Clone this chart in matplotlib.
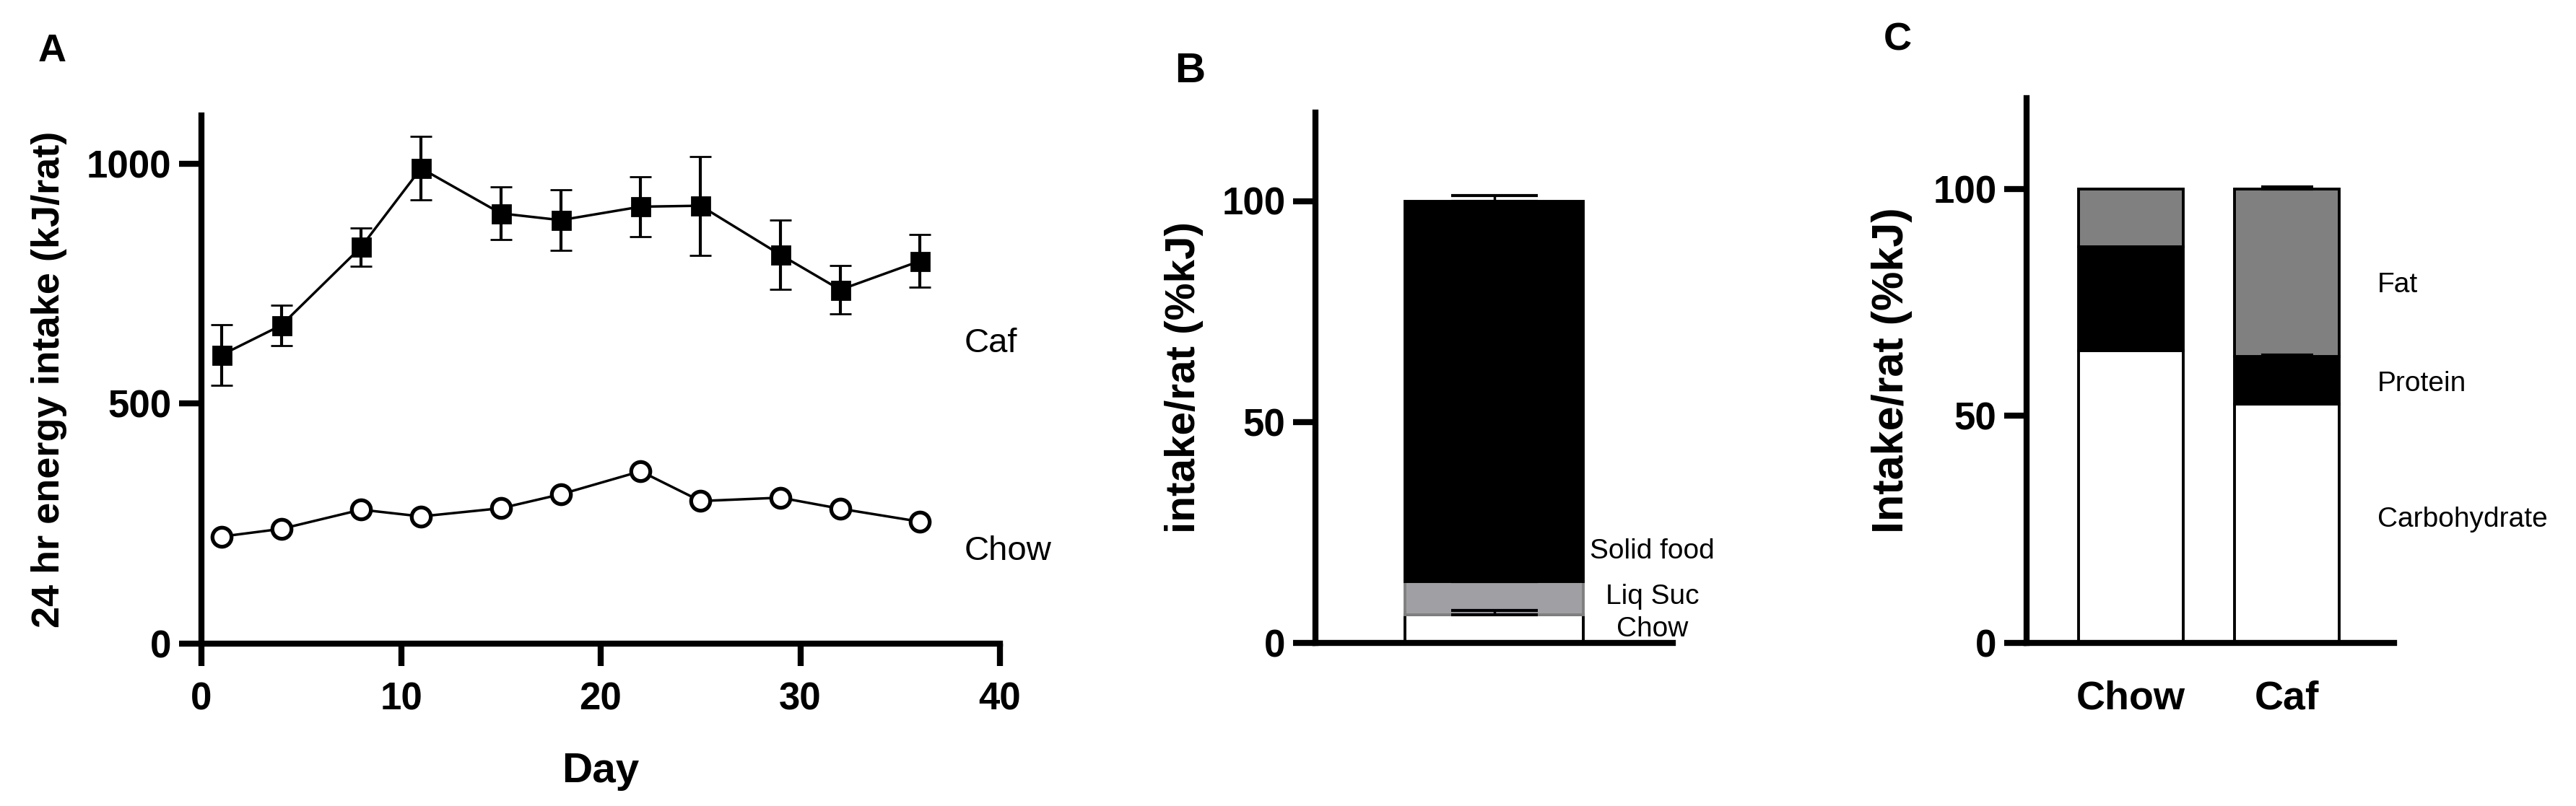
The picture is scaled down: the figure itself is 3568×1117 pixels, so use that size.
"""Three-panel intake figure: daily energy intake (A), Caf energy sources (B),
macronutrient split by diet (C)."""

import matplotlib.pyplot as plt
import numpy as np

plt.rcParams['font.family'] = ['Liberation Sans', 'DejaVu Sans']

# --- Panel A: 24 hr energy intake over days ---
DAYS = [1, 4, 8, 11, 15, 18, 22, 25, 29, 32, 36]
CAF_KJ = [601, 663, 826, 990, 896, 882, 910, 912, 810, 737, 797]
CAF_SEM = [63, 42, 40, 66, 55, 63, 63, 103, 72, 51, 55]
CHOW_KJ = [223, 239, 279, 265, 282, 311, 359, 297, 304, 281, 254]

# --- Panel B: share of energy by source (Caf rats), stacked bottom -> top ---
B_SOURCES = ['Chow', 'Liq Suc', 'Solid food']
B_PCT = [6.4, 7.5, 86.1]
B_SEM = [0.9, 0.1, 1.3]
B_COLORS = ['white', '#a0a0a4', 'black']
B_EDGES = ['black', '#808080', 'black']

# --- Panel C: macronutrient share by diet, stacked bottom -> top ---
DIETS = ['Chow', 'Caf']
MACROS = ['Carbohydrate', 'Protein', 'Fat']
CARB_PCT = [64.4, 52.6]
PROTEIN_PCT = [22.8, 10.5]
FAT_PCT = [12.8, 36.9]
PROTEIN_SEM = [0.0, 0.3]
FAT_SEM = [0.0, 0.4]
C_COLORS = ['white', 'black', '#808080']

W, H = 3568, 1117
SPINE_LW = 6
TICK_LEN = 22
TICK_FS = 38


def px_axes(fig, left, right, bottom, top):
    """Axes from pixel edges (top-left origin)."""
    return fig.add_axes([left / W, 1 - bottom / H, (right - left) / W, (bottom - top) / H])


def style_axes(ax):
    for side in ('top', 'right'):
        ax.spines[side].set_visible(False)
    for side in ('left', 'bottom'):
        ax.spines[side].set_linewidth(SPINE_LW)
        ax.spines[side].set_capstyle('projecting')
    ax.tick_params(axis='both', width=SPINE_LW, length=TICK_LEN, labelsize=TICK_FS,
                   direction='out', pad=8)


def bold_ticks(ax):
    for lbl in ax.get_xticklabels() + ax.get_yticklabels():
        lbl.set_fontweight('bold')


fig = plt.figure(figsize=(W / 100, H / 100), dpi=100)

# ---------------- A ----------------
axA = px_axes(fig, 279, 1385, 892, 160)
style_axes(axA)
axA.errorbar(DAYS, CAF_KJ, yerr=CAF_SEM, color='black', lw=2.5, marker='s', ms=18,
             mew=2, elinewidth=3, capsize=10.5, capthick=3, zorder=3, clip_on=False)
axA.plot(DAYS, CHOW_KJ, color='black', lw=2.5, marker='o', ms=19, mfc='white',
         mec='black', mew=3.8, zorder=3, clip_on=False)
axA.set_xlim(0, 40)
axA.set_ylim(0, 1100)
axA.set_xticks([0, 10, 20, 30, 40])
axA.set_yticks([0, 500, 1000])
axA.tick_params(axis='x', pad=16)
bold_ticks(axA)
axA.set_xlabel('Day', fontsize=42, fontweight='bold', labelpad=34)
axA.set_ylabel('24 hr energy intake (kJ/rat)', fontsize=39, fontweight='bold', va='center')
axA.yaxis.set_label_coords(-0.191, 0.5)
axA.text(38.2, 607, 'Caf', fontsize=34, va='baseline', ha='left', clip_on=False)
axA.text(38.2, 174, 'Chow', fontsize=34, va='baseline', ha='left', clip_on=False)

# ---------------- B ----------------
axB = px_axes(fig, 1822, 2317, 891, 156)
style_axes(axB)
bottom = 0.0
for name, val, sem, fc, ec in zip(B_SOURCES, B_PCT, B_SEM, B_COLORS, B_EDGES):
    axB.bar(0, val, width=0.5, bottom=bottom, color=fc, edgecolor=ec, linewidth=2.8, zorder=2)
    top = bottom + val
    axB.errorbar(0, top, yerr=[[0], [sem]], color='black', elinewidth=2.5,
                 capsize=43, capthick=3, zorder=3)
    bottom = top
axB.set_xlim(-0.5, 0.5)
axB.set_ylim(0, 120)
axB.set_xticks([])
axB.set_yticks([0, 50, 100])
bold_ticks(axB)
axB.set_ylabel('intake/rat (%kJ)', fontsize=42, fontweight='bold', va='center')
axB.yaxis.set_label_coords(-0.368, 0.5)
B_LABEL_Y = [1.5, 8.8, 19.1]
for name, ly in zip(B_SOURCES, B_LABEL_Y):
    axB.text(0.443, ly, name, fontsize=28, ha='center', va='baseline', clip_on=False)

# ---------------- C ----------------
axC = px_axes(fig, 2807, 3316, 891, 136)
style_axes(axC)
x = np.arange(len(DIETS))
layers = [CARB_PCT, PROTEIN_PCT, FAT_PCT]
sems = [[0.0, 0.0], PROTEIN_SEM, FAT_SEM]
bottoms = np.zeros(len(DIETS))
for vals, sem, fc in zip(layers, sems, C_COLORS):
    vals = np.asarray(vals)
    axC.bar(x, vals, width=0.67, bottom=bottoms, color=fc, edgecolor='black',
            linewidth=2.8, zorder=2)
    tops = bottoms + vals
    for xi, t, s in zip(x, tops, sem):
        if s > 0:
            axC.errorbar(xi, t, yerr=[[0], [s]], color='black', elinewidth=2.5,
                         capsize=26, capthick=3, zorder=3)
    bottoms = tops
axC.set_xlim(-0.667, 1.684)
axC.set_ylim(0, 120)
axC.set_xticks(x)
axC.set_xticklabels(DIETS)
axC.set_yticks([0, 50, 100])
axC.tick_params(axis='x', length=0, pad=37, labelsize=40)
bold_ticks(axC)
axC.set_ylabel('Intake/rat (%kJ)', fontsize=44, fontweight='bold', va='center')
axC.yaxis.set_label_coords(-0.367, 0.5)
C_LABEL_Y = [25.6, 55.5, 77.3]
for name, ly in zip(MACROS, C_LABEL_Y):
    axC.text(1.577, ly, name, fontsize=28, ha='left', va='baseline', clip_on=False)

# panel letters
for letter, lx, ly, fs in [('A', 72, 85, 39), ('B', 1648, 114, 42), ('C', 2628, 70, 39)]:
    fig.text(lx / W, 1 - ly / H, letter, fontsize=fs, fontweight='bold',
             ha='center', va='baseline')

fig.savefig('out.png', dpi=100)
